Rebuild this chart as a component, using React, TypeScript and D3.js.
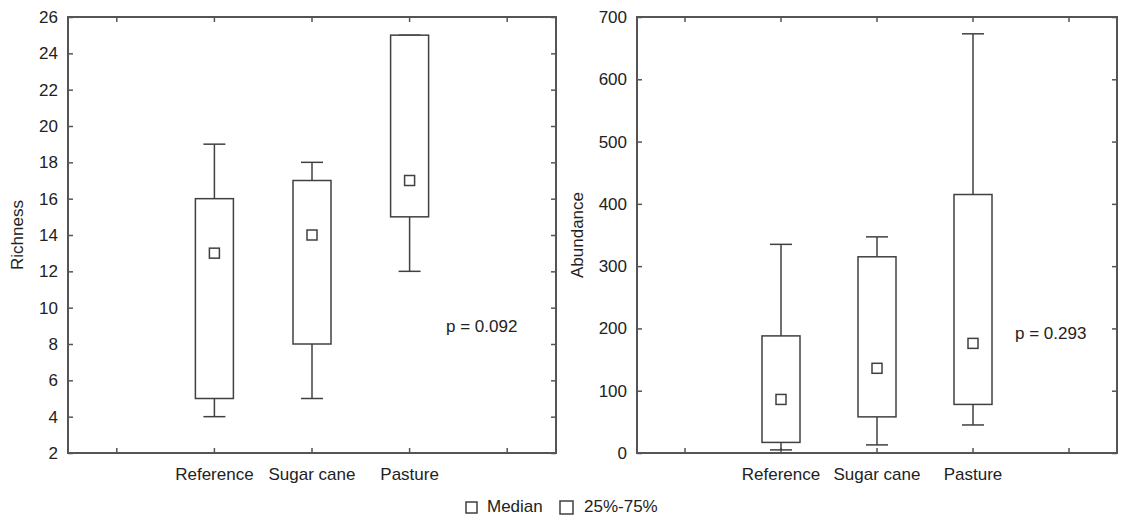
import React, { useEffect, useRef } from 'react';
import * as d3 from 'd3';

// categories on the x axis (the outer slots are empty, as in the original)
const slots = ['', 'Reference', 'Sugar cane', 'Pasture', ' '];
const categories = ['Reference', 'Sugar cane', 'Pasture'];

// Richness
const richMin = [4, 5, 12];
const richQ1 = [5, 8, 15];
const richMedian = [13, 14, 17];
const richQ3 = [16, 17, 25];
const richMax = [19, 18, 25];
const richTicks = [2, 4, 6, 8, 10, 12, 14, 16, 18, 20, 22, 24, 26];

// Abundance
const abMin = [5, 13, 45];
const abQ1 = [17, 58, 78];
const abMedian = [86, 136, 176];
const abQ3 = [188, 315, 415];
const abMax = [335, 347, 673];
const abTicks = [0, 100, 200, 300, 400, 500, 600, 700];

const FONT = '"Liberation Sans", Arial, sans-serif';
const FS = 17;
const AXIS = '#555';
const INK = '#404040';

function drawPanel(svg, opts) {
  const { left, right, top, bottom, domain, ticks, title, titleX, pText, pX, pY, mins, q1s, meds, q3s, maxs } = opts;

  const x = d3.scaleBand().domain(slots).range([left, right]).padding(0);
  const y = d3.scaleLinear().domain(domain).range([bottom, top]);
  const g = svg.append('g');

  // inward ticks on all four sides
  const tickLen = 5;
  const yAxL = g.append('g').attr('transform', `translate(${left},0)`)
    .call(d3.axisLeft(y).tickValues(ticks).tickSize(-tickLen).tickPadding(10));
  const yAxR = g.append('g').attr('transform', `translate(${right},0)`)
    .call(d3.axisRight(y).tickValues(ticks).tickSize(-tickLen).tickFormat(() => ''));
  const xAxB = g.append('g').attr('transform', `translate(0,${bottom})`)
    .call(d3.axisBottom(x).tickSize(-tickLen).tickPadding(15).tickFormat(d => categories.includes(d) ? d : ''));
  const xAxT = g.append('g').attr('transform', `translate(0,${top})`)
    .call(d3.axisTop(x).tickSize(-tickLen).tickFormat(() => ''));

  [yAxL, yAxR, xAxB, xAxT].forEach(a => {
    a.select('.domain').remove();
    a.selectAll('line').attr('stroke', AXIS).attr('stroke-width', 1.5);
    a.selectAll('text').attr('font-family', FONT).attr('font-size', FS).attr('fill', '#222');
  });

  // frame
  g.append('rect')
    .attr('x', left).attr('y', top)
    .attr('width', right - left).attr('height', bottom - top)
    .attr('fill', 'none').attr('stroke', AXIS).attr('stroke-width', 2);

  const boxW = 38;
  const capW = 22;
  const medS = 10;

  const boxes = g.selectAll('g.box').data(categories).enter().append('g').attr('class', 'box');
  const cx = d => x(d) + x.bandwidth() / 2;

  // whiskers
  boxes.append('line')
    .attr('x1', cx).attr('x2', cx)
    .attr('y1', (d, i) => y(maxs[i])).attr('y2', (d, i) => y(mins[i]))
    .attr('stroke', INK).attr('stroke-width', 1.5);
  boxes.append('line')
    .attr('x1', d => cx(d) - capW / 2).attr('x2', d => cx(d) + capW / 2)
    .attr('y1', (d, i) => y(maxs[i])).attr('y2', (d, i) => y(maxs[i]))
    .attr('stroke', INK).attr('stroke-width', 1.5);
  boxes.append('line')
    .attr('x1', d => cx(d) - capW / 2).attr('x2', d => cx(d) + capW / 2)
    .attr('y1', (d, i) => y(mins[i])).attr('y2', (d, i) => y(mins[i]))
    .attr('stroke', INK).attr('stroke-width', 1.5);

  // 25%-75% box
  boxes.append('rect')
    .attr('x', d => cx(d) - boxW / 2).attr('width', boxW)
    .attr('y', (d, i) => y(q3s[i])).attr('height', (d, i) => y(q1s[i]) - y(q3s[i]))
    .attr('fill', '#fff').attr('stroke', INK).attr('stroke-width', 1.5);

  // median
  boxes.append('rect')
    .attr('x', d => cx(d) - medS / 2).attr('width', medS)
    .attr('y', (d, i) => y(meds[i]) - medS / 2).attr('height', medS)
    .attr('fill', '#fff').attr('stroke', INK).attr('stroke-width', 1.5);

  // y title
  g.append('text')
    .attr('transform', `translate(${titleX},${(top + bottom) / 2}) rotate(-90)`)
    .attr('text-anchor', 'middle')
    .attr('font-family', FONT).attr('font-size', FS).attr('fill', '#222')
    .text(title);

  // p value
  g.append('text')
    .attr('x', pX).attr('y', pY)
    .attr('font-family', FONT).attr('font-size', FS).attr('fill', '#222')
    .attr('dominant-baseline', 'middle')
    .text(pText);
}

export default function App() {
  const ref = useRef(null);

  useEffect(() => {
    d3.select(ref.current).selectAll('*').remove();
    const svg = d3.select(ref.current);

    drawPanel(svg, {
      left: 68, right: 556, top: 17, bottom: 453,
      domain: [2, 26], ticks: richTicks, title: 'Richness', titleX: 23,
      pText: 'p = 0.092', pX: 446, pY: 328,
      mins: richMin, q1s: richQ1, meds: richMedian, q3s: richQ3, maxs: richMax,
    });

    drawPanel(svg, {
      left: 637, right: 1117, top: 17, bottom: 453,
      domain: [0, 700], ticks: abTicks, title: 'Abundance', titleX: 583,
      pText: 'p = 0.293', pX: 1015, pY: 335,
      mins: abMin, q1s: abQ1, meds: abMedian, q3s: abQ3, maxs: abMax,
    });

    // legend
    const leg = svg.append('g');
    leg.append('rect').attr('x', 466).attr('y', 502).attr('width', 11).attr('height', 11)
      .attr('fill', '#fff').attr('stroke', INK).attr('stroke-width', 1.5);
    leg.append('text').attr('x', 487).attr('y', 508).attr('dominant-baseline', 'middle')
      .attr('font-family', FONT).attr('font-size', FS).attr('fill', '#222').text('Median');
    leg.append('rect').attr('x', 560).attr('y', 501).attr('width', 13).attr('height', 13)
      .attr('fill', '#fff').attr('stroke', INK).attr('stroke-width', 1.5);
    leg.append('text').attr('x', 584).attr('y', 508).attr('dominant-baseline', 'middle')
      .attr('font-family', FONT).attr('font-size', FS).attr('fill', '#222').text('25%-75%');
  }, []);

  return (
    <svg ref={ref} width={1121} height={521}
      style={{ position: 'absolute', left: 0, top: 0, background: '#fff' }} />
  );
}
